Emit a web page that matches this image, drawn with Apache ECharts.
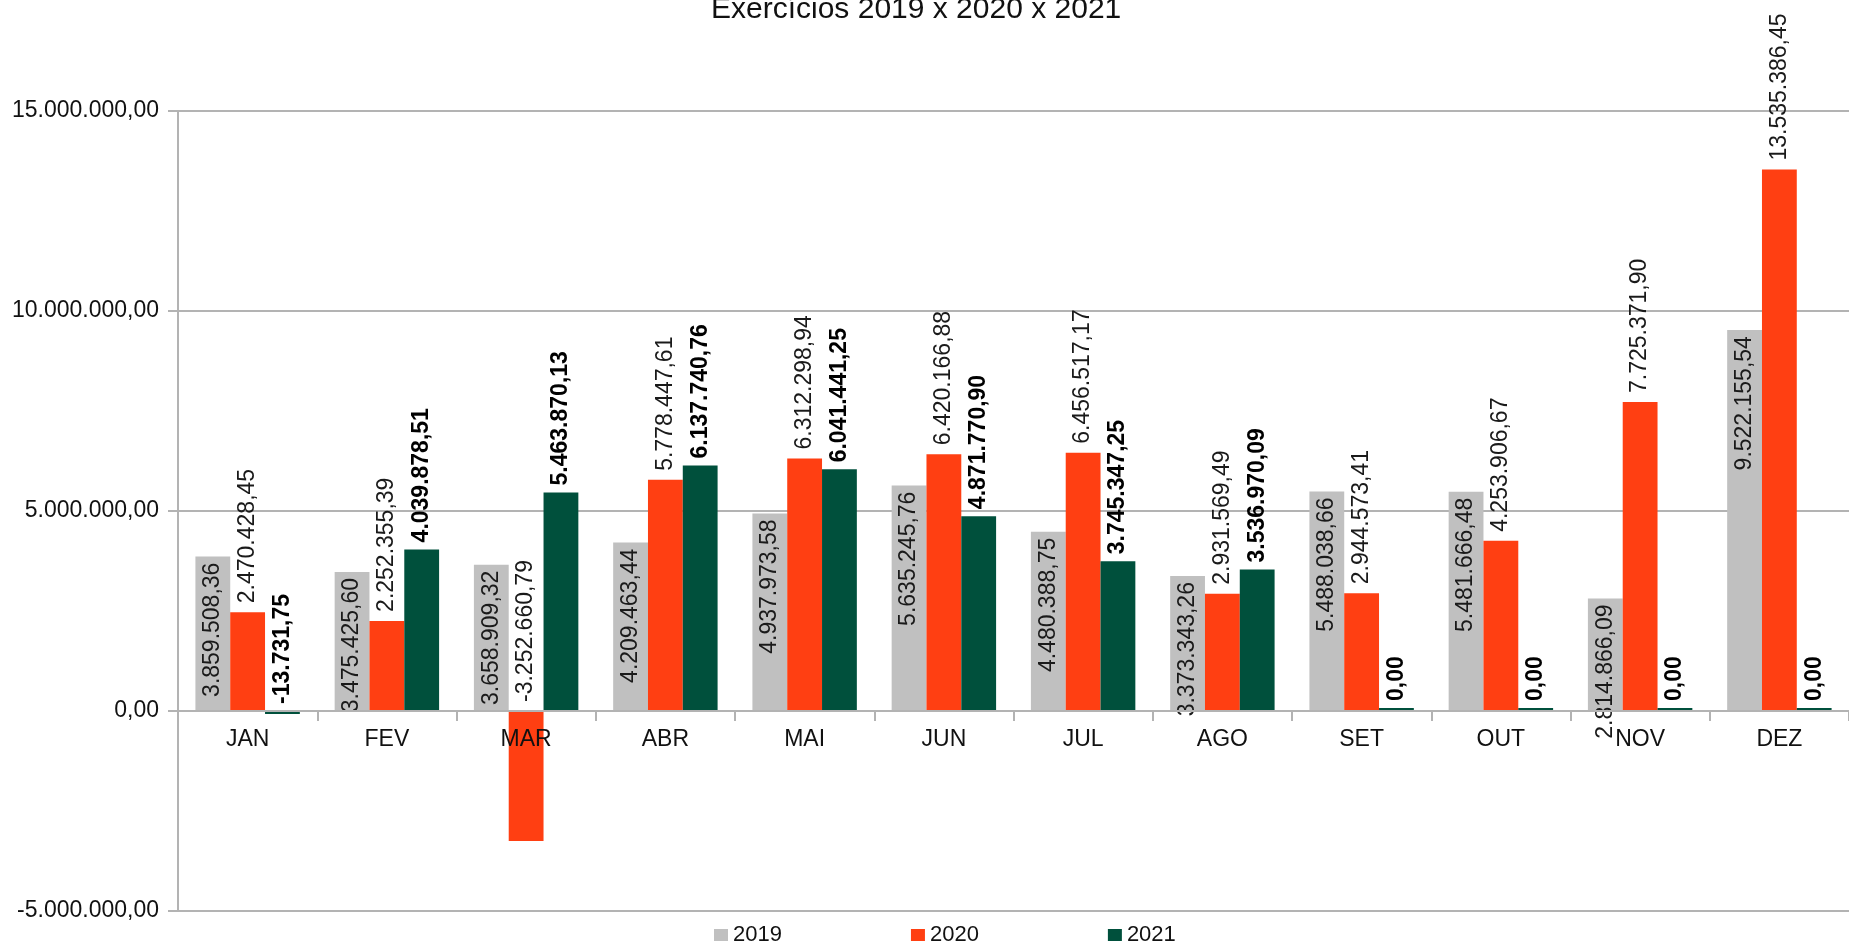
<!DOCTYPE html>
<html>
<head>
<meta charset="utf-8">
<script src="https://cdn.jsdelivr.net/npm/echarts@6/dist/echarts.min.js"></script>
<style>
  html, body { margin: 0; padding: 0; background: #fff; }
  #chart { width: 1849px; height: 941px; }
</style>
</head>
<body>
<div id="chart"></div>
<script>
var meses = ['JAN', 'FEV', 'MAR', 'ABR', 'MAI', 'JUN', 'JUL', 'AGO', 'SET', 'OUT', 'NOV', 'DEZ']
var v2019 = [3859508.36, 3475425.60, 3658909.32, 4209463.44, 4937973.58, 5635245.76, 4480388.75, 3373343.26, 5488038.66, 5481666.48, 2814866.09, 9522155.54]
var v2020 = [2470428.45, 2252355.39, -3252660.79, 5778447.61, 6312298.94, 6420166.88, 6456517.17, 2931569.49, 2944573.41, 4253906.67, 7725371.90, 13535386.45]
var v2021 = [-13731.75, 4039878.51, 5463870.13, 6137740.76, 6041441.25, 4871770.90, 3745347.25, 3536970.09, 0, 0, 0, 0]

var fonte = 'Liberation Sans'

// formato brasileiro: 1.234.567,89
function brl (n) {
    var s = Math.abs(n).toFixed(2).split('.')
    var inteiro = s[0].replace(/\B(?=(\d{3})+(?!\d))/g, '.')
    return (n < 0 ? '-' : '') + inteiro + ',' + s[1]
}

var myChart = echarts.init(document.getElementById('chart'))

var option = {
    backgroundColor: '#fff',
    animation: false,
    title: {
        text: 'Exercícios 2019 x 2020 x 2021',
        left: 711,
        top: -5,
        padding: 0,
        textStyle: { fontFamily: fonte, fontSize: 30, fontWeight: 'normal', color: '#111' }
    },
    legend: {
        data: ['2019', '2020', '2021'],
        left: 709,
        top: 919,
        itemWidth: 14,
        itemHeight: 12,
        itemGap: 129,
        icon: 'rect',
        textStyle: { fontFamily: fonte, fontSize: 22, color: '#111' }
    },
    grid: {
        left: 178,
        right: -14,
        top: 111,
        bottom: 30
    },
    xAxis: {
        type: 'category',
        data: meses,
        z: 3,
        // eixo na linha do zero: 5.000.000 abaixo = 200px
        offset: -200,
        axisLine: { show: true, onZero: false, lineStyle: { color: '#b3b3b3', width: 2 } },
        axisTick: { show: true, length: 10, lineStyle: { color: '#b3b3b3', width: 2 } },
        axisLabel: { fontFamily: fonte, fontSize: 23, color: '#111', margin: 17 }
    },
    yAxis: {
        type: 'value',
        min: -5000000,
        max: 15000000,
        interval: 5000000,
        axisLine: { show: true, onZero: false, lineStyle: { color: '#b3b3b3', width: 2 } },
        axisTick: { show: true, length: 10, lineStyle: { color: '#b3b3b3', width: 2 } },
        splitLine: { lineStyle: { color: '#b3b3b3', width: 2 } },
        axisLabel: {
            fontFamily: fonte,
            fontSize: 23,
            color: '#111',
            margin: 19,
            formatter: function (v) { return brl(v) }
        }
    },
    series: [
        {
            name: '2019',
            type: 'bar',
            data: v2019,
            barGap: '0%',
            barCategoryGap: '25%',
            itemStyle: { color: '#c0c0c0' },
            label: {
                show: true,
                position: 'insideTop',
                rotate: 90,
                align: 'right',
                verticalAlign: 'middle',
                distance: 6,
                fontFamily: fonte,
                fontSize: 23,
                color: '#1a1a1a',
                formatter: function (p) { return brl(p.value) }
            }
        },
        {
            name: '2020',
            type: 'bar',
            data: v2020,
            barGap: '0%',
            barCategoryGap: '25%',
            itemStyle: { color: '#ff3f12' },
            label: {
                show: true,
                position: 'top',
                rotate: 90,
                align: 'left',
                verticalAlign: 'middle',
                distance: 9,
                fontFamily: fonte,
                fontSize: 23,
                color: '#1a1a1a',
                formatter: function (p) { return brl(p.value) }
            }
        },
        {
            name: '2021',
            type: 'bar',
            data: v2021,
            barGap: '0%',
            barCategoryGap: '25%',
            barMinHeight: 3,
            itemStyle: { color: '#00503c' },
            label: {
                show: true,
                position: 'top',
                rotate: 90,
                align: 'left',
                verticalAlign: 'middle',
                distance: 7,
                fontFamily: fonte,
                fontSize: 23,
                fontWeight: 'bold',
                color: '#000',
                formatter: function (p) { return brl(p.value) }
            }
        }
    ]
}

myChart.setOption(option)
</script>
</body>
</html>
